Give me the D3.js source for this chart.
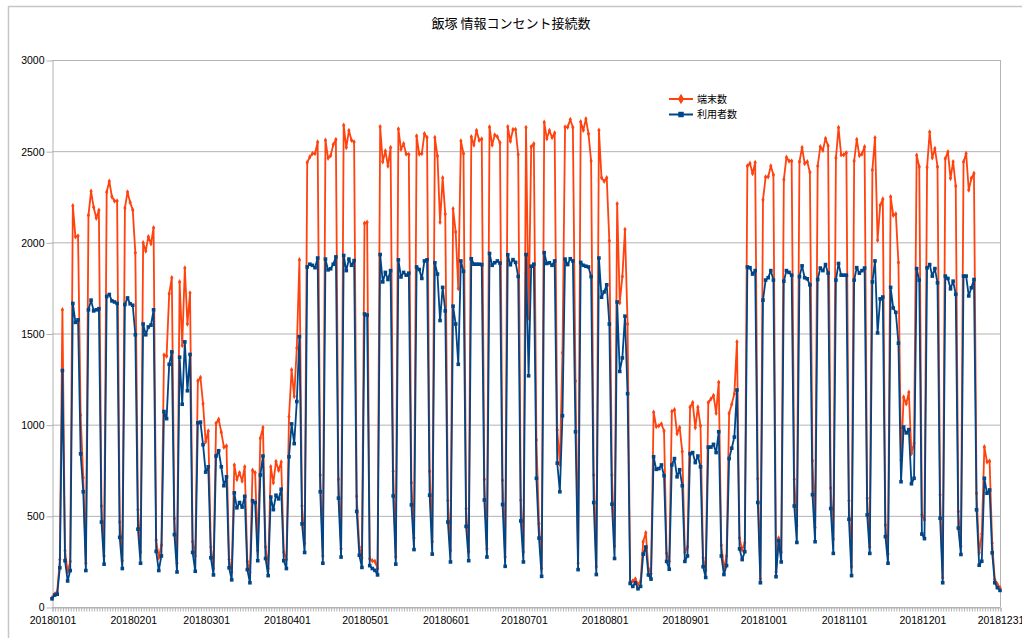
<!DOCTYPE html>
<html>
<head>
<meta charset="utf-8">
<script src="https://cdn.jsdelivr.net/npm/d3@7"></script>
<style>
body { margin: 0; background: #fff; }
svg text { font-family: "Liberation Sans", Arial, sans-serif; }
</style>
</head>
<body>
<div id="content"></div>
<script>
let width = 1022;
let height = 638;
let margin = ({top: 60, right: 22, bottom: 31, left: 52});

let title = "飯塚 情報コンセント接続数";
let seriesNames = ["端末数", "利用者数"];

// one category per day of 2018
let days = d3.timeDay.range(new Date(2018, 0, 1), new Date(2019, 0, 1)).map(d3.timeFormat("%Y%m%d"));

let tickLabels = ["20180101", "20180201", "20180301", "20180401", "20180501", "20180601",
    "20180701", "20180801", "20180901", "20181001", "20181101", "20181201", "20181231"];

let yTicks = [0, 500, 1000, 1500, 2000, 2500, 3000];

// 端末数 (one line per month)
let terminals = [
    50,70,84,260,1630,309,192,250,2200,2031,2035,1053,710,240,2149,2280,2192,2133,2176,554,280,2276,2335,2250,2227,2227,466,254,2188,2276,2219,
    2178,1943,534,300,1998,1953,2031,1992,2080,368,270,339,1382,1376,1718,1806,485,240,1783,1434,1859,1552,1722,358,280,1239,1258,1115,
    906,965,329,210,1008,1029,959,877,883,260,192,779,700,736,691,769,250,188,750,736,309,926,984,329,211,769,681,798,750,795,300,
    260,1043,1301,1155,1421,1904,554,348,2438,2468,2487,2487,2550,724,280,2560,2462,2476,2536,2564,700,319,2642,2520,2613,2560,2550,607,329,270,
    2104,2110,264,254,250,211,2634,2442,2501,2419,2520,744,274,2622,2511,2540,2485,2482,681,378,2583,2485,2487,2595,2575,744,358,2575,2474,2110,2354,
    2155,583,309,2184,2057,1747,2556,2487,540,303,2579,2534,2613,2560,2567,700,319,2632,2534,2589,2579,2546,695,274,2634,2555,2619,2619,2482,586,
    302,2630,1585,2524,2540,916,456,211,2658,2569,2613,2575,2599,971,783,1395,2632,2632,2673,2630,1239,240,2661,2615,2677,2595,2446,724,221,2615,2354,
    2335,2354,2008,724,333,2211,1669,1812,2070,1552,137,143,153,123,143,358,407,211,182,1068,990,994,1004,965,294,250,1072,1082,951,984,853,
    300,329,1096,1121,984,1096,994,270,201,1121,1141,1160,1063,1233,339,211,280,1063,1112,1170,1454,378,313,352,2419,2433,2378,2438,704,153,
    2233,2358,2360,2419,2370,192,378,300,2344,2466,2446,2446,700,446,2442,2520,2433,2442,2384,802,436,2419,2524,2505,2569,2530,652,372,2462,2630,2480,
    2480,2491,583,221,2446,2564,2476,2485,2524,597,329,2397,2573,2012,2203,2237,450,290,2250,2149,2155,1890,806,1151,1115,1178,842,900,2478,2415,
    506,478,2411,2605,2464,2515,2415,615,160,2460,2496,2351,2442,2309,524,333,2442,2487,2287,2351,2378,624,297,400,878,796,800,351,151,124,106
];

// 利用者数 (one line per month)
let users = [
    45,65,70,215,1297,254,143,200,1665,1561,1575,840,632,200,1630,1683,1624,1630,1636,466,235,1703,1714,1679,1673,1665,382,211,1659,1695,1663,
    1655,1493,427,240,1552,1493,1536,1546,1630,305,200,280,1072,1033,1331,1399,397,192,1370,1112,1454,1186,1385,299,196,1010,1014,890,
    740,769,270,176,828,857,769,665,714,215,149,626,544,573,548,607,205,133,583,573,254,724,828,266,172,603,534,613,593,646,254,
    211,824,1004,896,1127,1483,456,299,1865,1880,1874,1861,1914,632,240,1908,1849,1855,1880,1920,597,274,1928,1845,1908,1874,1900,524,284,217,
    1607,1601,227,211,201,176,1933,1783,1835,1796,1845,609,235,1904,1810,1835,1820,1831,560,315,1865,1851,1802,1898,1904,613,290,1888,1826,1571,1753,
    1624,466,247,1650,1552,1331,1898,1841,442,254,1910,1880,1880,1880,1878,587,274,1939,1874,1888,1898,1886,562,223,1932,1877,1905,1890,1813,472,
    247,1933,1268,1869,1880,706,378,168,1943,1884,1888,1874,1898,789,632,1049,1908,1878,1910,1898,961,205,1890,1874,1869,1865,1812,573,178,1914,1699,
    1728,1767,1552,564,266,1673,1292,1366,1595,1170,129,113,133,100,113,290,329,176,153,824,755,759,779,720,250,207,779,814,714,753,665,
    250,280,841,847,792,828,769,221,162,877,877,892,847,961,280,178,227,814,871,932,1190,319,260,303,1865,1861,1826,1845,573,133,
    1683,1793,1806,1845,1793,166,364,247,1787,1845,1835,1820,554,354,1812,1871,1806,1800,1767,616,358,1796,1859,1845,1878,1831,540,294,1793,1884,1820,
    1820,1820,481,172,1793,1861,1831,1845,1859,505,294,1783,1898,1503,1690,1700,386,240,1753,1640,1616,1447,687,987,955,973,676,706,1856,1793,
    400,375,1860,1878,1815,1856,1778,487,133,1815,1802,1745,1787,1715,433,288,1815,1815,1706,1751,1796,533,229,251,706,624,642,297,133,106,91
];

let colors = d3.scaleOrdinal()
    .domain(seriesNames)
    .range(["#ff420e", "#004586"]);

let gridColor = "#b3b3b3";

let svg = d3.select("#content")
    .append("svg")
    .attr("width", width)
    .attr("height", height)
    .style("display", "block");

// outer chart frame (only top and left edges are inside the picture)
svg.append("path")
    .attr("d", "M8.5," + height + " V6.5 H" + width)
    .attr("fill", "none")
    .attr("stroke", "#c6c6c6")
    .attr("stroke-width", 1.5);

let xScale = d3.scalePoint()
    .domain(days)
    .range([margin.left, width - margin.right]);

let yScale = d3.scaleLinear()
    .domain([0, 3000])
    .range([height - margin.bottom, margin.top]);

// horizontal grid
svg.append("g")
    .selectAll("line")
    .data(yTicks)
    .join("line")
    .attr("x1", margin.left)
    .attr("x2", width - margin.right)
    .attr("y1", d => yScale(d) + 0.5)
    .attr("y2", d => yScale(d) + 0.5)
    .attr("stroke", gridColor);

// right edge of the plot area
svg.append("line")
    .attr("x1", width - margin.right + 0.5)
    .attr("x2", width - margin.right + 0.5)
    .attr("y1", margin.top)
    .attr("y2", height - margin.bottom)
    .attr("stroke", gridColor);

let yAxis = svg.append("g")
    .attr("transform", "translate(" + (margin.left + 0.5) + ",0.5)")
    .call(d3.axisLeft(yScale)
        .tickValues(yTicks)
        .tickFormat(d3.format("d"))
        .tickSize(6)
        .tickPadding(2)
        .tickSizeOuter(0));

let xAxis = svg.append("g")
    .attr("transform", "translate(0.5," + (height - margin.bottom + 0.5) + ")")
    .call(d3.axisBottom(xScale)
        .tickValues(days)
        .tickSize(4)
        .tickPadding(5)
        .tickFormat(d => tickLabels.includes(d) ? d : ""));

[yAxis, xAxis].forEach(function(a) {
    a.selectAll(".domain").attr("stroke", gridColor);
    a.selectAll(".tick line").attr("stroke", gridColor);
    a.selectAll("text")
        .attr("fill", "#000")
        .style("font-size", "10.5px");
});

let line = d3.line()
    .x((d, i) => xScale(days[i]))
    .y(d => yScale(d));

// 端末数 first so that 利用者数 sits on top
svg.append("path")
    .datum(terminals)
    .attr("fill", "none")
    .attr("stroke", colors("端末数"))
    .attr("stroke-width", 1.8)
    .attr("stroke-linejoin", "round")
    .attr("d", line);

svg.append("g")
    .selectAll("path")
    .data(terminals)
    .join("path")
    .attr("transform", (d, i) => "translate(" + xScale(days[i]) + "," + yScale(d) + ")")
    .attr("d", d3.symbol(d3.symbolDiamond, 9))
    .attr("fill", colors("端末数"));

svg.append("path")
    .datum(users)
    .attr("fill", "none")
    .attr("stroke", colors("利用者数"))
    .attr("stroke-width", 1.8)
    .attr("stroke-linejoin", "round")
    .attr("d", line);

svg.append("g")
    .selectAll("rect")
    .data(users)
    .join("rect")
    .attr("x", (d, i) => xScale(days[i]) - 1.8)
    .attr("y", d => yScale(d) - 1.8)
    .attr("width", 3.6)
    .attr("height", 3.6)
    .attr("fill", colors("利用者数"));

// title
svg.append("text")
    .attr("x", width / 2)
    .attr("y", 28)
    .attr("text-anchor", "middle")
    .style("font-family", "'Noto Sans CJK JP', sans-serif")
    .style("font-size", "13px")
    .attr("fill", "#000")
    .text(title);

// legend
let legend = svg.append("g")
    .attr("transform", "translate(669,99)");

let legendItems = legend.selectAll("g")
    .data(seriesNames)
    .join("g")
    .attr("transform", (d, i) => "translate(0," + (i * 15.5) + ")");

legendItems.append("line")
    .attr("x1", 0)
    .attr("x2", 24)
    .attr("stroke", d => colors(d))
    .attr("stroke-width", 2);

legendItems.append("path")
    .attr("transform", "translate(12,0)")
    .attr("d", (d, i) => i === 0 ? d3.symbol(d3.symbolDiamond, 32)() : d3.symbol(d3.symbolSquare, 30)())
    .attr("fill", d => colors(d));

legendItems.append("text")
    .attr("x", 28)
    .attr("dy", "0.35em")
    .style("font-family", "'Noto Sans CJK JP', sans-serif")
    .style("font-size", "10px")
    .attr("fill", "#000")
    .text(d => d);
</script>
</body>
</html>
